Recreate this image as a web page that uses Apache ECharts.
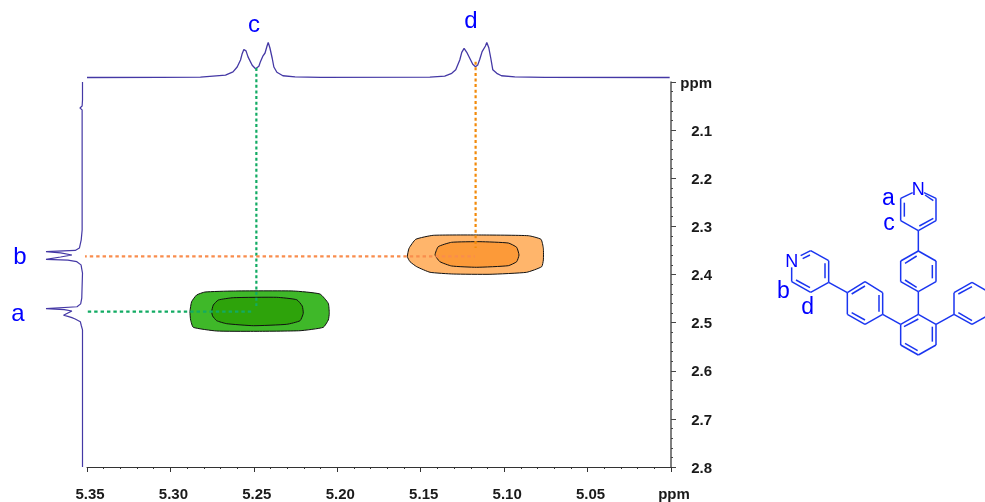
<!DOCTYPE html>
<html>
<head>
<meta charset="utf-8">
<title>NOESY</title>
<script src="https://cdn.jsdelivr.net/npm/echarts@6/dist/echarts.min.js"></script>
<style>
html, body { margin: 0; padding: 0; background: #fff; }
#chart { width: 985px; height: 502px; }
</style>
</head>
<body>
<div id="chart"></div>
<script>
// 1D trace on top: [ppm, relative intensity]
const topTrace = [[5.35,0],[5.306,0.002],[5.282,0.012],[5.267,0.07],[5.2625,0.16],[5.26,0.3],[5.258,0.5],[5.257,0.68],[5.256,0.8],
  [5.2547,0.76],[5.2535,0.59],[5.251,0.35],[5.249,0.25],[5.247,0.32],[5.246,0.46],[5.2445,0.62],[5.2433,0.7],[5.2421,0.9],[5.2414,1],
  [5.2404,0.85],[5.239,0.55],[5.238,0.3],[5.2362,0.15],[5.2326,0.05],[5.2253,0.02],[5.21,0.004],[5.1445,0.01],[5.1356,0.04],
  [5.1314,0.12],[5.129,0.22],[5.1266,0.5],[5.1254,0.72],[5.124,0.83],[5.1224,0.72],[5.1206,0.55],[5.1188,0.38],[5.1172,0.31],
  [5.1158,0.36],[5.1146,0.52],[5.1132,0.74],[5.1122,0.78],[5.1112,0.9],[5.1104,1],[5.1092,0.85],[5.108,0.55],[5.1068,0.22],
  [5.1044,0.12],[5.1016,0.05],[5.0936,0.02],[5.0757,0.004],[5.0008,0]];
// 1D trace on the left: [relative intensity, ppm]
const leftTrace = [[0,2],[0,2.0374],[0.01,2.05],[0.07,2.054],[0.01,2.058],[0.01,2.3075],[0.035,2.328],[0.085,2.345],[0.2,2.35],
  [1,2.3526],[0.6,2.355],[0.29,2.3595],[0.6,2.3637],[1,2.3684],[0.4,2.37],[0.155,2.3734],[0.04,2.38],[0,2.397],[0.02,2.449],
  [0.05,2.461],[0.15,2.467],[1,2.4711],[0.5,2.473],[0.29,2.4758],[0.4,2.48],[0.52,2.4847],[0.4,2.487],[0.29,2.4897],[0.2,2.4924],
  [0.06,2.498],[0.03,2.507],[0,2.515],[0,2.8]];

// contours: [ppm F2, ppm F1]
const greenOuter = [[5.2883,2.4772],[5.2873,2.4565],[5.2843,2.4426],[5.2793,2.4364],[5.2623,2.4343],[5.2264,2.4343],[5.2104,2.4405],
  [5.2054,2.4599],[5.2048,2.4807],[5.2054,2.4946],[5.2084,2.5098],[5.2223,2.5168],[5.2503,2.5181],[5.2723,2.5174],[5.2863,2.5098],[5.2879,2.4946]];
const greenInner = [[5.2753,2.4772],[5.2743,2.4634],[5.2713,2.453],[5.2623,2.4482],[5.2363,2.4474],[5.2243,2.4524],[5.221,2.4655],
  [5.2204,2.4807],[5.2223,2.496],[5.2303,2.5035],[5.2503,2.5064],[5.2663,2.5022],[5.2723,2.496],[5.2747,2.4863]];
const orangeOuter = [[5.158,2.363],[5.157,2.3456],[5.153,2.3269],[5.1425,2.3186],[5.1145,2.3179],[5.0855,2.3194],[5.0779,2.3269],
  [5.0765,2.3456],[5.0765,2.3699],[5.0775,2.3838],[5.0865,2.3954],[5.1085,2.3996],[5.1305,2.399],[5.1444,2.3954],[5.1524,2.3838],[5.1564,2.3734]];
const orangeInner = [[5.1414,2.3595],[5.1395,2.3422],[5.1315,2.3331],[5.1145,2.3318],[5.0975,2.3346],[5.0925,2.3435],[5.0911,2.3595],
  [5.0925,2.3734],[5.0975,2.3817],[5.1165,2.385],[5.1315,2.3823],[5.1385,2.3734]];

// dotted guide lines
const greenV = [[5.2485,1.971],[5.2485,2.4655]];
const greenH = [[5.3572,2.4773],[5.2499,2.4773]];
const orangeV = [[5.1171,1.9578],[5.1171,2.345]];
const orangeH = [[5.356,2.3622],[5.1175,2.3622]];

// structure on the right: bonds [x1, y1, x2, y2], in drawing units
const bonds = [
  [428,68,392,85],[392,85,392,152],[392,152,445,182],[445,182,498,152],[498,152,498,85],[498,85,462,68],
  [403,98,403,140],[448,168,490,145],[490,92,465,75],
  [445,182,445,243],
  [445,243,392,273],[392,273,392,335],[392,335,445,365],[445,365,498,335],[498,335,498,273],[498,273,445,243],
  [405,280,440,258],[487,285,487,325],[405,330,440,352],
  [445,365,445,433],
  [445,433,392,463],[392,463,392,525],[392,525,445,555],[445,555,498,525],[498,525,498,463],[498,463,445,433],
  [402,470,445,447],[487,470,487,515],[405,520,443,542],
  [392,463,338,433],
  [338,433,285,463],[285,463,232,433],[232,433,232,368],[232,368,285,335],[285,335,338,368],[338,368,338,433],
  [245,372,285,348],[327,375,327,425],[245,428,285,450],
  [232,368,176,337],
  [176,337,176,272],[176,272,122,242],[122,242,92,257],[65,292,65,335],[65,335,122,367],[122,367,176,337],
  [165,325,165,280],[120,255,98,266],[78,330,120,353],
  [498,463,552,433],
  [552,433,552,368],[552,368,606,337],[606,337,660,368],[660,368,660,433],[660,433,606,463],[606,463,552,433],
  [565,372,606,350],[650,375,650,425],[565,428,606,452]
];
const atoms = [[445,60,'N',18],[65,275,'N',18],[355,85,'a',23],[357,160,'c',23],[40,365,'b',23],[113,412,'d',23]];

const xTicks = { min: 5.0, max: 5.35, step: 0.05 };
const yTicks = { min: 2.0, max: 2.8, step: 0.1 };

const font = '"Liberation Sans", Arial, sans-serif';
const traceColor = '#4438a5';
const blue = '#0000ff';

function contour(points, fill) {
  return {
    type: 'custom', xAxisIndex: 0, yAxisIndex: 0, data: [0], z: 3, silent: true,
    renderItem: function (params, api) {
      return {
        type: 'polygon',
        shape: { points: points.map(function (p) { return api.coord(p); }), smooth: 0.15 },
        style: { fill: fill, stroke: '#111', lineWidth: 1 }
      };
    }
  };
}

function guide(data, color, dash) {
  return {
    type: 'line', xAxisIndex: 0, yAxisIndex: 0, data: data, symbol: 'none', clip: false, z: 5, silent: true,
    lineStyle: { color: color, width: 2.2, type: dash }
  };
}

const chart = echarts.init(document.getElementById('chart'));
chart.setOption({
  animation: false,
  backgroundColor: '#fff',
  textStyle: { fontFamily: font },
  grid: [
    { left: 87, top: 82, width: 584, height: 385 },
    { left: 87, top: 42.5, width: 584, height: 35 },
    { left: 46, top: 82, width: 36.5, height: 385 },
    { left: 770, top: 170, width: 215, height: 190 }
  ],
  xAxis: [
    {
      gridIndex: 0, type: 'value', inverse: true, min: xTicks.min, max: xTicks.max, interval: xTicks.step,
      axisLine: { onZero: false, lineStyle: { color: '#333', width: 1 } },
      axisTick: { length: 5, lineStyle: { color: '#333' } },
      minorTick: { show: true, splitNumber: 5, length: 2, lineStyle: { color: '#333' } },
      splitLine: { show: false },
      axisLabel: {
        margin: 20, color: '#1a1a1a', fontSize: 15, fontWeight: 'bold', fontFamily: font, padding: [0, 0, 0, 6],
        formatter: function (v) { return v === xTicks.min ? 'ppm' : v.toFixed(2); }
      }
    },
    { gridIndex: 1, type: 'value', inverse: true, min: xTicks.min, max: xTicks.max, show: false },
    { gridIndex: 2, type: 'value', inverse: true, min: 0, max: 1, show: false },
    { gridIndex: 3, type: 'value', min: 0, max: 645, show: false }
  ],
  yAxis: [
    {
      gridIndex: 0, type: 'value', inverse: true, position: 'right', min: yTicks.min, max: yTicks.max, interval: yTicks.step,
      axisLine: { show: true, onZero: false, lineStyle: { color: '#555', width: 1.5 } },
      axisTick: { show: true, length: 5, lineStyle: { color: '#444' } },
      minorTick: { show: true, splitNumber: 5, length: 2, lineStyle: { color: '#444' } },
      splitLine: { show: false },
      axisLabel: {
        margin: 41, align: 'right', verticalAlign: 'top', lineHeight: 3, color: '#1a1a1a', fontSize: 15, fontWeight: 'bold', fontFamily: font,
        formatter: function (v) { return v === yTicks.min ? 'ppm' : v.toFixed(1); }
      }
    },
    { gridIndex: 1, type: 'value', min: 0, max: 1, show: false },
    { gridIndex: 2, type: 'value', inverse: true, min: yTicks.min, max: yTicks.max, show: false },
    { gridIndex: 3, type: 'value', inverse: true, min: 0, max: 570, show: false }
  ],
  series: [
    contour(greenOuter, '#3fb829'),
    contour(greenInner, '#2ea30b'),
    contour(orangeOuter, '#ffb56b'),
    contour(orangeInner, '#fc9a39'),
    guide(greenV, '#12ab63', [3, 2.6]),
    guide(greenH, '#12ab63', [3.4, 3]),
    guide(orangeV, '#f28a0a', [3, 2.6]),
    guide(orangeH, '#f98d4d', [3.4, 3]),
    {
      type: 'line', xAxisIndex: 1, yAxisIndex: 1, data: topTrace, symbol: 'none', silent: true, clip: false,
      lineStyle: { color: traceColor, width: 1.3 }
    },
    {
      type: 'line', xAxisIndex: 2, yAxisIndex: 2, data: leftTrace, symbol: 'none', silent: true, clip: false,
      lineStyle: { color: traceColor, width: 1.2 }
    },
    {
      type: 'custom', xAxisIndex: 3, yAxisIndex: 3, data: bonds, silent: true,
      encode: { x: [0, 2], y: [1, 3] },
      renderItem: function (params, api) {
        const a = api.coord([api.value(0), api.value(1)]);
        const b = api.coord([api.value(2), api.value(3)]);
        return {
          type: 'line',
          shape: { x1: a[0], y1: a[1], x2: b[0], y2: b[1] },
          style: { stroke: '#1a35f0', lineWidth: 1.5 }
        };
      }
    },
    {
      type: 'custom', xAxisIndex: 3, yAxisIndex: 3, data: atoms, silent: true,
      encode: { x: 0, y: 1 },
      renderItem: function (params, api) {
        const atom = atoms[params.dataIndex];
        const p = api.coord([atom[0], atom[1]]);
        return {
          type: 'text',
          style: {
            x: p[0], y: p[1], text: atom[2], fill: blue, align: 'center', verticalAlign: 'middle',
            font: atom[3] + 'px ' + font
          }
        };
      }
    }
  ],
  // peak letters
  graphic: [
    { type: 'text', x: 254, y: 25, style: { text: 'c', fill: blue, align: 'center', verticalAlign: 'middle', font: '24px ' + font } },
    { type: 'text', x: 471, y: 21, style: { text: 'd', fill: blue, align: 'center', verticalAlign: 'middle', font: '24px ' + font } },
    { type: 'text', x: 20, y: 257, style: { text: 'b', fill: blue, align: 'center', verticalAlign: 'middle', font: '24px ' + font } },
    { type: 'text', x: 18, y: 314, style: { text: 'a', fill: blue, align: 'center', verticalAlign: 'middle', font: '24px ' + font } }
  ]
});
</script>
</body>
</html>
